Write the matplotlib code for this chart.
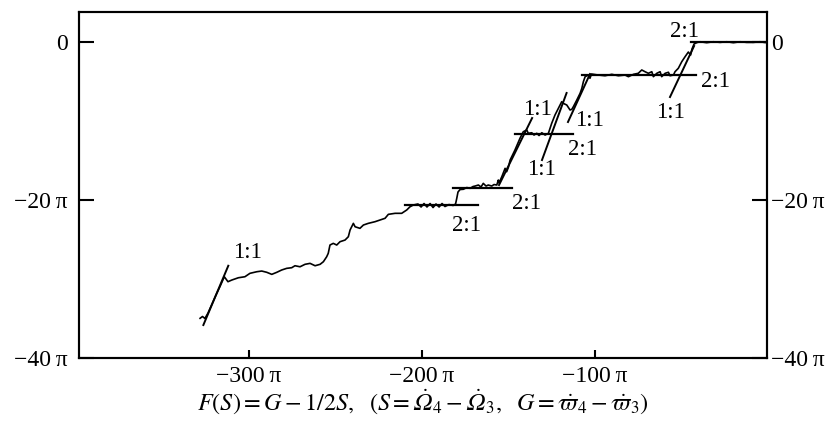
import matplotlib
matplotlib.use("Agg")
import matplotlib.pyplot as plt

plt.rcParams['font.family'] = ['Liberation Serif', 'DejaVu Serif']
plt.rcParams['mathtext.fontset'] = 'stix'

# ---- data (units of pi) ----
curve_x = [-328.1, -326.7, -325.3, -323.5, -321.2, -318.9, -316.6, -314.1, -312.7, -312.0,
           -309.8, -306.0, -302.2, -299.3, -295.4, -292.5, -289.6, -286.7, -283.8, -281.0,
           -278.1, -275.2, -273.3, -270.4, -267.5, -264.6, -261.7, -258.8, -256.9, -255.0,
           -254.1, -253.1, -251.2, -249.2, -247.3, -244.4, -242.5, -241.5, -239.6, -238.6,
           -235.8, -233.8, -231.0, -227.1, -224.2, -221.3, -219.4, -215.5, -211.7, -208.8,
           -206.9, -205.0, -202.3, -200.5, -198.8, -197.1, -195.3, -193.6, -191.9, -190.1,
           -188.4, -186.7, -184.4, -182.0, -180.6, -179.9, -179.2, -178.0, -176.1, -174.1,
           -172.2, -170.5, -169.3, -167.4, -165.9, -164.6, -163.0, -161.7, -159.7, -158.4,
           -156.8, -155.9, -155.5, -153.9, -152.0, -151.1, -150.1, -149.1, -146.3, -143.4,
           -141.5, -139.5, -138.6, -136.6, -135.3, -133.7, -132.4, -130.8, -128.9, -127.0,
           -125.1, -123.2, -120.3, -119.3, -118.4, -116.4, -114.5, -113.5, -112.6, -110.6,
           -108.7, -107.7, -106.8, -105.8, -103.9, -103.0, -102.1, -101.0, -98.2, -94.3,
           -90.4, -86.6, -82.7, -80.8, -77.9, -75.1, -73.1, -71.2, -69.3, -67.3,
           -66.4, -64.4, -62.5, -61.6, -59.6, -57.7, -56.8, -54.8, -53.9, -52.0,
           -50.0, -48.1, -46.2, -44.9, -44.1, -42.9, -41.2, -39.4, -35.6, -31.8,
           -27.9, -24.0, -20.2, -16.3, -12.5, -8.7, -4.8, -1.9]
curve_y = [-34.98, -34.75, -35.0, -34.31, -33.17, -32.03, -30.96, -29.72, -30.14, -30.35,
           -30.14, -29.85, -29.72, -29.29, -29.09, -29.0, -29.16, -29.42, -29.16, -28.87,
           -28.66, -28.58, -28.33, -28.46, -28.15, -28.03, -28.33, -28.15, -27.82, -27.19,
           -26.76, -25.71, -25.5, -25.71, -25.29, -25.08, -24.66, -23.81, -22.97, -23.4,
           -23.6, -23.18, -22.97, -22.76, -22.55, -22.33, -21.83, -21.7, -21.7, -21.28,
           -20.87, -20.65, -20.52, -20.9, -20.46, -20.9, -20.46, -20.97, -20.52, -20.9,
           -20.46, -20.84, -20.59, -20.71, -20.52, -19.8, -19.01, -18.69, -18.66, -18.44,
           -18.54, -18.31, -18.25, -18.12, -18.37, -17.91, -18.25, -18.12, -18.25, -18.06,
           -18.12, -17.49, -17.87, -17.07, -16.01, -16.44, -15.88, -14.96, -13.69, -12.21,
           -11.38, -11.16, -11.58, -11.51, -11.8, -11.58, -11.86, -11.51, -11.8, -11.58,
           -10.32, -9.27, -8.0, -7.58, -7.79, -8.0, -8.63, -8.55, -8.22, -7.37,
           -6.52, -5.89, -5.05, -4.42, -4.21, -4.62, -4.08, -4.12, -4.21, -4.3,
           -4.12, -4.3, -4.21, -4.42, -4.12, -3.99, -3.57, -3.79, -3.99, -3.79,
           -4.42, -3.99, -3.79, -4.42, -3.99, -3.86, -4.3, -4.21, -3.79, -3.36,
           -2.52, -1.89, -1.3, -1.68, -0.92, -0.28, -0.1, 0.0, -0.12, 0.0,
           -0.08, 0.0, -0.12, 0.0, -0.08, -0.08, 0.0, -0.1]

# 1:1 resonance lines (x0, x1, y0, y1)
res11_x0 = [-326.2, -155.5, -130.7, -115.7, -56.8]
res11_x1 = [-311.8, -136.4, -116.5, -103.0, -42.9]
res11_y0 = [-35.83, -18.12, -14.96, -10.15, -6.99]
res11_y1 = [-28.33, -9.65, -6.48, -4.08, -0.54]

# 2:1 resonance lines (horizontal)
res21_y = [-20.65, -18.5, -11.71, -4.21, 0.0]
res21_x0 = [-209.8, -182.0, -146.3, -107.6, -44.6]
res21_x1 = [-167.6, -148.0, -112.8, -41.7, -1.0]

label_text = ["1:1", "2:1", "2:1", "1:1", "1:1", "2:1", "1:1", "2:1", "1:1", "2:1"]
label_x = [-301.0, -174.0, -139.9, -133.5, -131.2, -107.6, -103.0, -30.8, -56.8, -48.7]
label_y = [-26.6, -23.18, -20.52, -8.63, -16.22, -13.69, -9.9, -4.97, -8.89, 1.36]

xticks = [-300, -200, -100]
xtick_labels = ["\u2212300\u2009\u03c0", "\u2212200\u2009\u03c0", "\u2212100\u2009\u03c0"]
yticks = [0, -20, -40]
ytick_labels = ["0", "\u221220\u2009\u03c0", "\u221240\u2009\u03c0"]

FS = 17

fig = plt.figure(figsize=(8.28, 4.34), dpi=100)
ax = fig.add_axes([0.0954, 0.1751, 0.8305, 0.7961])

ax.plot(curve_x, curve_y, color='black', lw=1.2)
for x0, x1, y0, y1 in zip(res11_x0, res11_x1, res11_y0, res11_y1):
    ax.plot([x0, x1], [y0, y1], color='black', lw=1.4)
for y, x0, x1 in zip(res21_y, res21_x0, res21_x1):
    ax.plot([x0, x1], [y, y], color='black', lw=1.6)
for t, x, y in zip(label_text, label_x, label_y):
    ax.text(x, y, t, ha='center', va='center', fontsize=16.5)

ax.set_xlim(-398, -1)
ax.set_ylim(-40, 3.7)
ax.set_xticks(xticks)
ax.set_xticklabels(xtick_labels, fontsize=FS)
ax.set_yticks(yticks)
ax.set_yticklabels(ytick_labels, fontsize=FS)
ax.tick_params(axis='x', direction='in', length=6, width=1.5, pad=6)
ax.tick_params(axis='y', direction='in', length=11, width=1.5, pad=8)

ax2 = ax.twinx()
ax2.set_ylim(-40, 3.7)
ax2.set_yticks(yticks)
ax2.set_yticklabels(ytick_labels, fontsize=FS)
ax2.tick_params(axis='y', direction='in', length=11, width=1.5, pad=3)

for a in (ax, ax2):
    for s in a.spines.values():
        s.set_linewidth(1.5)

ax.set_xlabel('$F(S) = G - 1/2S,\\ \\ (S = \\dot{\U0001D6FA}_4 - \\dot{\U0001D6FA}_3,\\ \\ G = \\dot{\\varpi}_4 - \\dot{\\varpi}_3)$',
              fontsize=17.5, labelpad=0)

fig.savefig("out.png", dpi=100)
